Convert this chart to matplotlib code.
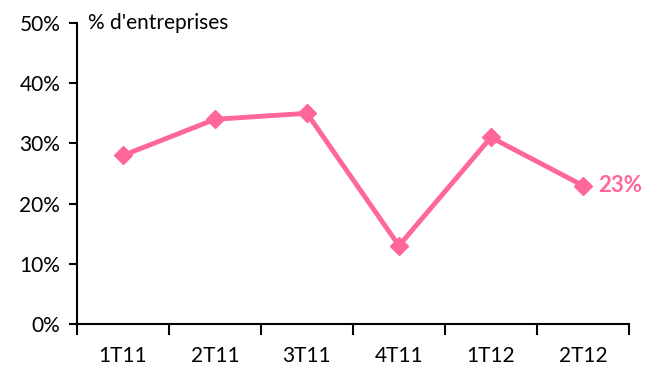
import matplotlib
matplotlib.use("Agg")
import matplotlib.pyplot as plt
import numpy as np

categories = ["1T11", "2T11", "3T11", "4T11", "1T12", "2T12"]
values = [28, 34, 35, 13, 31, 23]
yticks = [0, 10, 20, 30, 40, 50]
ylabels = ["0%", "10%", "20%", "30%", "40%", "50%"]

pink = "#FF6699"
plt.rcParams['font.family'] = ['Lato', 'DejaVu Sans']

fig = plt.figure(figsize=(6.62, 3.65), dpi=100)
ax = fig.add_axes([0.1163, 0.1123, 0.950 - 0.1163, 0.937 - 0.1123])
x = np.arange(len(categories))
ax.plot(x, values, color=pink, lw=3.5, marker="D", ms=9, mec=pink, mfc=pink)
ax.text(x[-1] + 0.17, values[-1], f"{values[-1]}%", color=pink, fontsize=16,
        fontweight="bold", va="center", ha="left")

ax.set_xlim(-0.5, len(categories) - 0.5)
ax.set_ylim(0, 50)
ax.set_yticks(yticks)
ax.set_yticklabels(ylabels, fontsize=15)
ax.set_xticks(np.arange(-0.5, len(categories)), minor=False)
ax.set_xticklabels([""] * (len(categories) + 1))
ax.set_xticks(x, minor=True)
ax.set_xticklabels(categories, minor=True, fontsize=15)
ax.tick_params(axis="x", which="major", length=8, width=1.5, direction="out")
ax.tick_params(axis="x", which="minor", length=0, pad=16)
ax.tick_params(axis="y", length=6, width=1.5, direction="out", pad=6)

for s in ["top", "right"]:
    ax.spines[s].set_visible(False)
for s in ["left", "bottom"]:
    ax.spines[s].set_linewidth(1.5)

ax.text(0.02, 50, "% d'entreprises", fontsize=15, va="center", ha="left",
        transform=ax.get_yaxis_transform())

fig.savefig("out.png", dpi=100)
